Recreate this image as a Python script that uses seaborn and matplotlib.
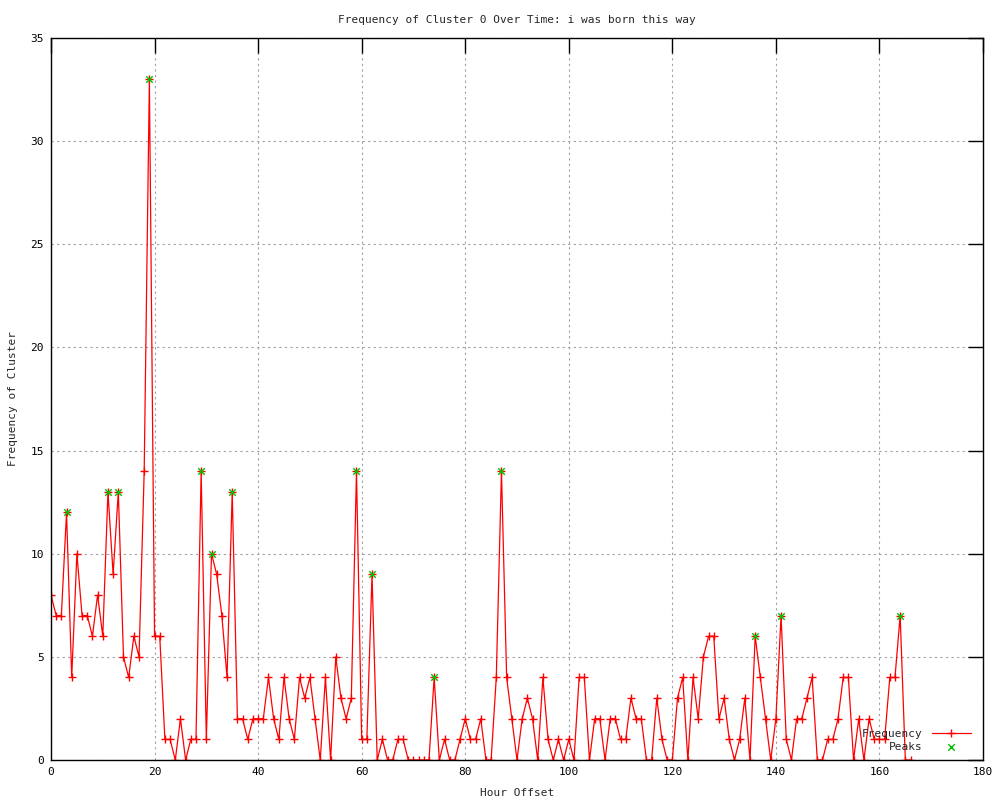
import pandas as pd
import seaborn as sns
import matplotlib
matplotlib.use("Agg")
import matplotlib.pyplot as plt

# hourly counts
hours = list(range(0, 167))
frequency = [
    8, 7, 7, 12, 4, 10, 7, 7, 6, 8,
    6, 13, 9, 13, 5, 4, 6, 5, 14, 33,
    6, 6, 1, 1, 0, 2, 0, 1, 1, 14,
    1, 10, 9, 7, 4, 13, 2, 2, 1, 2,
    2, 2, 4, 2, 1, 4, 2, 1, 4, 3,
    4, 2, 0, 4, 0, 5, 3, 2, 3, 14,
    1, 1, 9, 0, 1, 0, 0, 1, 1, 0,
    0, 0, 0, 0, 4, 0, 1, 0, 0, 1,
    2, 1, 1, 2, 0, 0, 4, 14, 4, 2,
    0, 2, 3, 2, 0, 4, 1, 0, 1, 0,
    1, 0, 4, 4, 0, 2, 2, 0, 2, 2,
    1, 1, 3, 2, 2, 0, 0, 3, 1, 0,
    0, 3, 4, 0, 4, 2, 5, 6, 6, 2,
    3, 1, 0, 1, 3, 0, 6, 4, 2, 0,
    2, 7, 1, 0, 2, 2, 3, 4, 0, 0,
    1, 1, 2, 4, 4, 0, 2, 0, 2, 1,
    1, 1, 4, 4, 7, 0, 0,
]
peak_hours = [3, 11, 13, 19, 29, 31, 35, 59, 62, 74, 87, 136, 141, 164]

df = pd.DataFrame({"hour": hours, "freq": frequency})
peaks = df[df["hour"].isin(peak_hours)]

sns.set_style("white")
plt.rcParams['font.family'] = ['DejaVu Sans Mono']
plt.rcParams['font.size'] = 8

fig = plt.figure(figsize=(10, 8), dpi=100)
ax = fig.add_axes([0.051, 0.05, 0.932, 0.9025])

sns.lineplot(data=df, x="hour", y="freq", ax=ax, color="#ff0000", linewidth=0.9,
             marker="+", markersize=5.5, markeredgewidth=1.0, markeredgecolor="#ff0000",
             label="Frequency")
sns.scatterplot(data=peaks, x="hour", y="freq", ax=ax, color="#00c000", marker="x",
                s=22, linewidth=1.0, label="Peaks", zorder=3)

ax.set_xlim(0, 180)
ax.set_ylim(0, 35)
ax.set_xticks(range(0, 181, 20))
ax.set_yticks(range(0, 36, 5))
ax.grid(True, color="#a0a0a0", linestyle=(0, (2, 3)), linewidth=0.8)
ax.tick_params(direction="in", length=11, width=1, top=True, right=True,
               labelsize=8, colors="black", pad=5)
for s in ax.spines.values():
    s.set_color("black")
    s.set_linewidth(1)

ax.set_title("Frequency of Cluster 0 Over Time: i was born this way", fontsize=8, pad=11)
ax.set_xlabel("Hour Offset", fontsize=8)
ax.set_ylabel("Frequency of Cluster", fontsize=8)
ax.xaxis.set_label_coords(0.5, -0.039)
ax.yaxis.set_label_coords(-0.035, 0.5)

ax.legend(loc="lower right", bbox_to_anchor=(0.995, 0.0), frameon=False, markerfirst=False,
          fontsize=8, handlelength=3.5, labelspacing=0.3, borderaxespad=0.3)

plt.savefig("out.png", dpi=100)
